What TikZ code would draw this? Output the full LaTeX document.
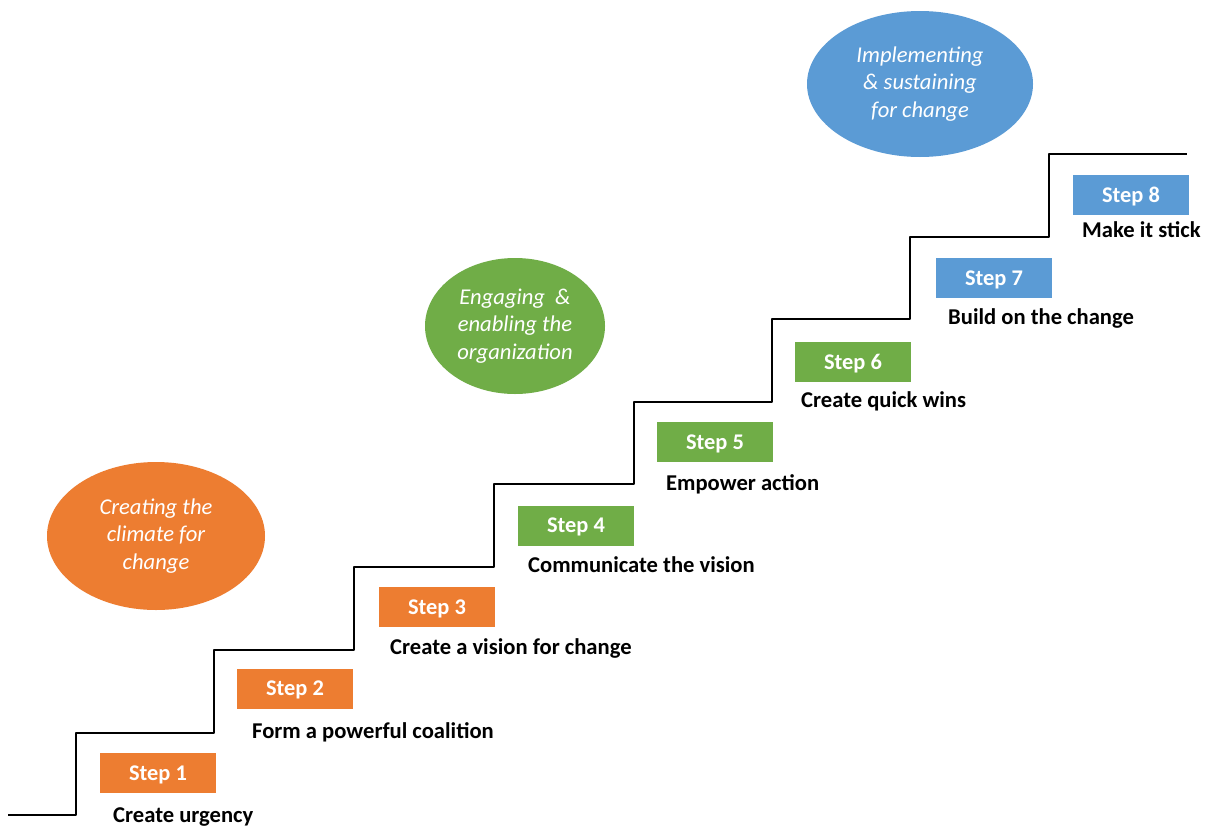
\documentclass[tikz,border=0pt]{standalone}
\usepackage{fontspec}
\setmainfont{Carlito}
\usetikzlibrary{shapes.geometric}
\definecolor{stepOrange}{HTML}{ED7D31}
\definecolor{stepGreen}{HTML}{70AD47}
\definecolor{stepBlue}{HTML}{5B9BD5}
\tikzset{
  stepbox/.style={fill=#1, minimum width=116pt, minimum height=40pt, inner sep=0pt,
    text height=14.2pt, text depth=0pt,
    text=white, font=\fontsize{22.4}{22.4}\selectfont\bfseries},
  steplabel/.style={anchor=base west, inner sep=0pt, font=\fontsize{22.6}{22.6}\selectfont\bfseries},
  phase/.style={ellipse, fill=#1, inner sep=0pt, text=white, align=center,
    font=\fontsize{22.6}{27.5}\selectfont\itshape},
  stairline/.style={line width=2.6pt, line join=round, line cap=butt}
}
\begin{document}
\begin{tikzpicture}[x=1pt,y=-1pt]
\useasboundingbox (0,0) rectangle (1212,827);
\fill[white] (0,0) rectangle (1212,827);

% staircase
\draw[stairline] (8,815) -- (76,815) -- (76,733) -- (214,733) -- (214,650)
  -- (354,650) -- (354,567) -- (494,567) -- (494,484) -- (634,484) -- (634,402)
  -- (772,402) -- (772,319) -- (910,319) -- (910,237) -- (1049,237) -- (1049,154)
  -- (1187,154);

% phase ellipses
\node[phase=stepOrange, minimum width=218pt, minimum height=148pt] (climate) at (156,536)
  {Creating the\\climate for\\change};
\node[phase=stepGreen, minimum width=180pt, minimum height=136pt] (engage) at (515,326)
  {Engaging\ \ \&\\enabling the\\organization};
\node[phase=stepBlue, minimum width=226pt, minimum height=146pt] (implement) at (920,84)
  {Implementing\\\& sustaining\\for change};

% steps
\node[stepbox=stepOrange] (s1) at (158,773) {Step 1};
\node[stepbox=stepOrange] (s2) at (295,688.5) {Step 2};
\node[stepbox=stepOrange] (s3) at (437,607) {Step 3};
\node[stepbox=stepGreen]  (s4) at (576,525.5) {Step 4};
\node[stepbox=stepGreen]  (s5) at (715,442) {Step 5};
\node[stepbox=stepGreen]  (s6) at (853,362) {Step 6};
\node[stepbox=stepBlue]   (s7) at (994,278) {Step 7};
\node[stepbox=stepBlue]   (s8) at (1131,195) {Step 8};

% step descriptions (baselines)
\node[steplabel] (l1) at (113,822) {Create urgency};
\node[steplabel] (l2) at (252,738) {Form a powerful coalition};
\node[steplabel] (l3) at (390,654) {Create a vision for change};
\node[steplabel] (l4) at (528,572) {Communicate the vision};
\node[steplabel] (l5) at (666,490) {Empower action};
\node[steplabel] (l6) at (801,407) {Create quick wins};
\node[steplabel] (l7) at (948,324) {Build on the change};
\node[steplabel] (l8) at (1082,237) {Make it stick};
\end{tikzpicture}
\end{document}
